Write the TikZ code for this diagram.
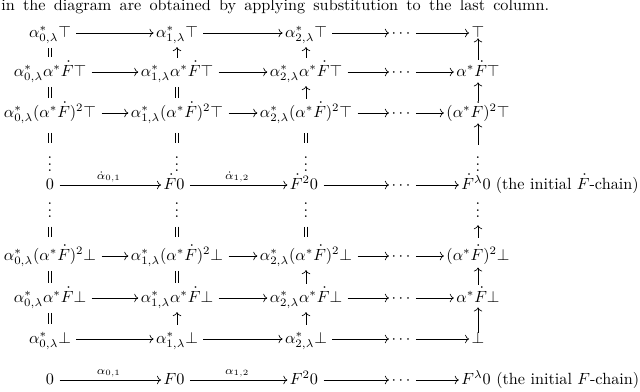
\documentclass[tikz,border=0pt]{standalone}
\usetikzlibrary{arrows.meta,positioning}
\begin{document}
\begin{tikzpicture}[x=0.617pt,y=-0.617pt,
  ent/.style={inner sep=0pt, text height=7.5pt, text depth=2.5pt},
  dts/.style={inner sep=0pt, text height=9.1pt, text depth=0pt},
  rar/.style={-{Computer Modern Rightarrow}, shorten <=3.2pt, shorten >=1.4pt},
  uar/.style={-{Computer Modern Rightarrow}, shorten <=3.5pt, shorten >=3.5pt},
  eqv/.style={double, double distance=1.6pt, shorten <=4pt, shorten >=4pt},
  lab/.style={above=1.5pt, inner sep=0pt, font=\scriptsize}
]
\useasboundingbox (0,0) rectangle (640,392);
\node[anchor=base west, inner sep=0pt] (cap) at (1,11) {\makebox[338pt][s]{in the diagram are obtained by applying substitution to the last column.}};
% top rows
\node[ent] (t11) at (50,33) {$\alpha^*_{0,\lambda}\top$};
\node[ent] (t12) at (177,33) {$\alpha^*_{1,\lambda}\top$};
\node[ent] (t13) at (306,33) {$\alpha^*_{2,\lambda}\top$};
\node[ent] (t14) at (401,33) {$\cdots$};
\node[ent] (t15) at (478,33) {$\top$};
\node[ent] (t21) at (50,72) {$\alpha^*_{0,\lambda}\alpha^*\dot F\top$};
\node[ent] (t22) at (177,72) {$\alpha^*_{1,\lambda}\alpha^*\dot F\top$};
\node[ent] (t23) at (306,72) {$\alpha^*_{2,\lambda}\alpha^*\dot F\top$};
\node[ent] (t24) at (401,72) {$\cdots$};
\node[ent] (t25) at (478,72) {$\alpha^*\dot F\top$};
\node[ent] (t31) at (50,113) {$\alpha^*_{0,\lambda}(\alpha^*\dot F)^2\top$};
\node[ent] (t32) at (177,113) {$\alpha^*_{1,\lambda}(\alpha^*\dot F)^2\top$};
\node[ent] (t33) at (306,113) {$\alpha^*_{2,\lambda}(\alpha^*\dot F)^2\top$};
\node[ent] (t34) at (401,113) {$\cdots$};
\node[ent] (t35) at (478,113) {$(\alpha^*\dot F)^2\top$};
% dots
\node[dts] (d11) at (50,164.5) {$\vdots$};
\node[dts] (d12) at (177,164.5) {$\vdots$};
\node[dts] (d13) at (306,164.5) {$\vdots$};
\node[dts] (d15) at (478,164.5) {$\vdots$};
\node[dts] (d21) at (50,210.5) {$\vdots$};
\node[dts] (d22) at (177,210.5) {$\vdots$};
\node[dts] (d23) at (306,210.5) {$\vdots$};
\node[dts] (d25) at (478,210.5) {$\vdots$};
% zero row
\node[ent] (z1) at (50,185) {$0$};
\node[ent] (z2) at (174,185) {$\dot F0$};
\node[ent] (z3) at (304,185) {$\dot F^20$};
\node[ent] (z4) at (401,185) {$\cdots$};
\node[ent] (z5) at (476,185) {$\dot F^\lambda0$};
\node[ent, anchor=east] (zt) at (639,185) {(the initial $\dot F$-chain)};
% bottom rows
\node[ent] (b31) at (50,256) {$\alpha^*_{0,\lambda}(\alpha^*\dot F)^2\bot$};
\node[ent] (b32) at (177,256) {$\alpha^*_{1,\lambda}(\alpha^*\dot F)^2\bot$};
\node[ent] (b33) at (306,256) {$\alpha^*_{2,\lambda}(\alpha^*\dot F)^2\bot$};
\node[ent] (b34) at (401,256) {$\cdots$};
\node[ent] (b35) at (478,256) {$(\alpha^*\dot F)^2\bot$};
\node[ent] (b21) at (50,298) {$\alpha^*_{0,\lambda}\alpha^*\dot F\bot$};
\node[ent] (b22) at (177,298) {$\alpha^*_{1,\lambda}\alpha^*\dot F\bot$};
\node[ent] (b23) at (306,298) {$\alpha^*_{2,\lambda}\alpha^*\dot F\bot$};
\node[ent] (b24) at (401,298) {$\cdots$};
\node[ent] (b25) at (478,298) {$\alpha^*\dot F\bot$};
\node[ent] (b11) at (50,339) {$\alpha^*_{0,\lambda}\bot$};
\node[ent] (b12) at (177,339) {$\alpha^*_{1,\lambda}\bot$};
\node[ent] (b13) at (306,339) {$\alpha^*_{2,\lambda}\bot$};
\node[ent] (b14) at (401,339) {$\cdots$};
\node[ent] (b15) at (478,339) {$\bot$};
% F row
\node[ent] (f1) at (50,380) {$0$};
\node[ent] (f2) at (174,380) {$F0$};
\node[ent] (f3) at (304,380) {$F^20$};
\node[ent] (f4) at (401,380) {$\cdots$};
\node[ent] (f5) at (476,380) {$F^\lambda0$};
\node[ent, anchor=east] (ft) at (639.5,380) {(the initial $F$-chain)};
% horizontal arrows
\foreach \r in {t1,t2,t3,b3,b2,b1}{
  \draw[rar] (\r1) -- (\r2);
  \draw[rar] (\r2) -- (\r3);
  \draw[rar] (\r3) -- (\r4);
  \draw[rar] (\r4) -- (\r5);
}
\draw[rar] (z1) -- node[lab]{$\dot\alpha_{0,1}$} (z2);
\draw[rar] (z2) -- node[lab]{$\dot\alpha_{1,2}$} (z3);
\draw[rar] (z3) -- (z4);
\draw[rar] (z4) -- (z5);
\draw[rar] (f1) -- node[lab]{$\alpha_{0,1}$} (f2);
\draw[rar] (f2) -- node[lab]{$\alpha_{1,2}$} (f3);
\draw[rar] (f3) -- (f4);
\draw[rar] (f4) -- (f5);
% column 1
\draw[eqv] (t11) -- (t21);
\draw[eqv] (t21) -- (t31);
\draw[eqv, shorten <=7.1pt, shorten >=8.3pt] (t31) -- (d11);
\draw[eqv, shorten <=5.2pt, shorten >=6.5pt] (d21) -- (b31);
\draw[eqv] (b31) -- (b21);
\draw[eqv] (b21) -- (b11);
% column 2
\draw[uar] (t22) -- (t12);
\draw[eqv] (t22) -- (t32);
\draw[eqv, shorten <=7.1pt, shorten >=8.3pt] (t32) -- (d12);
\draw[eqv, shorten <=5.2pt, shorten >=6.5pt] (d22) -- (b32);
\draw[eqv] (b32) -- (b22);
\draw[uar] (b12) -- (b22);
% column 3
\draw[uar] (t23) -- (t13);
\draw[uar] (t33) -- (t23);
\draw[eqv, shorten <=7.1pt, shorten >=8.3pt] (t33) -- (d13);
\draw[eqv, shorten <=5.2pt, shorten >=6.5pt] (d23) -- (b33);
\draw[uar] (b23) -- (b33);
\draw[uar] (b13) -- (b23);
% column 5
\draw[-{Computer Modern Rightarrow}, shorten <=2.5pt, shorten >=-1.9pt] (t25) -- (t15);
\draw[-{Computer Modern Rightarrow}, shorten <=1.9pt, shorten >=1.2pt] (t35) -- (t25);
\draw[-{Computer Modern Rightarrow}, shorten <=7.4pt, shorten >=1.2pt] (d15) -- (t35);
\draw[-{Computer Modern Rightarrow}, shorten <=6.2pt, shorten >=4.3pt] (b35) -- (d25);
\draw[-{Computer Modern Rightarrow}, shorten <=3pt, shorten >=1.9pt] (b25) -- (b35);
\draw[-{Computer Modern Rightarrow}, shorten <=-1.2pt, shorten >=0.6pt] (b15) -- (b25);
\end{tikzpicture}
\end{document}
